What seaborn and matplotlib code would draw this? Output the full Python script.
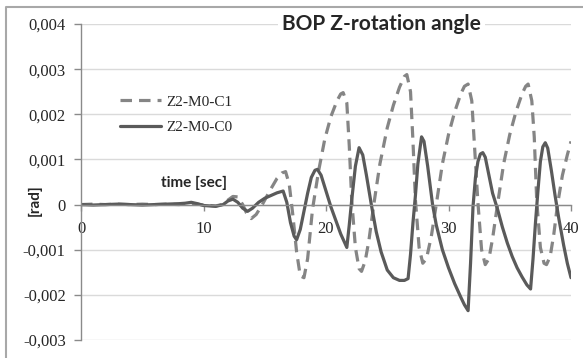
import numpy as np
import pandas as pd
import matplotlib
matplotlib.use("Agg")
import matplotlib.pyplot as plt
from matplotlib.ticker import FuncFormatter, FixedLocator
from matplotlib.lines import Line2D
import seaborn as sns

# BOP rotation about Z, two configurations (values in mrad)
time_c1 = [0, 1, 2, 3, 4, 5, 6, 7, 8, 8.5, 9, 9.5, 10, 10.5, 11, 11.5, 12.0, 12.4, 12.8,
           13.2, 13.5, 13.9, 14.3, 14.8, 15.4, 16.0, 16.4, 16.7, 17.0, 17.3, 17.6, 17.9,
           18.2, 18.5, 18.9, 19.4, 19.9, 20.4, 20.9, 21.2, 21.4, 21.7, 21.9, 22.1, 22.4,
           22.7, 22.9, 23.2, 23.5, 23.9, 24.4, 25.0, 25.5, 26.0, 26.4, 26.6, 26.9, 27.1,
           27.3, 27.6, 27.9, 28.2, 28.6, 29.0, 29.5, 30.0, 30.5, 31.0, 31.3, 31.6, 31.9,
           32.1, 32.4, 32.7, 33.0, 33.3, 33.6, 34.0, 34.5, 35.0, 35.5, 36.0, 36.3, 36.5,
           36.8, 37.0, 37.2, 37.5, 37.8, 38.0, 38.3, 38.6, 38.9, 39.3, 39.7, 40.0]
angle_c1_mrad = [0.0, 0.01, 0.0, 0.01, 0.0, 0.01, 0.0, 0.01, 0.0, 0.02, 0.03, 0.01, -0.01,
                 -0.02, -0.03, 0.0, 0.10, 0.18, 0.17, 0.0, -0.18, -0.31, -0.22, 0.0, 0.30,
                 0.58, 0.70, 0.73, 0.45, -0.25, -1.05, -1.58, -1.62, -1.20, -0.10, 0.75,
                 1.45, 1.95, 2.30, 2.45, 2.48, 2.25, 1.30, 0.10, -0.95, -1.42, -1.48, -1.25,
                 -0.80, 0.0, 0.90, 1.70, 2.20, 2.60, 2.84, 2.88, 2.50, 1.40, 0.10, -0.95,
                 -1.30, -1.20, -0.70, 0.0, 0.90, 1.55, 2.05, 2.45, 2.62, 2.67, 2.30, 1.40,
                 0.05, -1.00, -1.33, -1.20, -0.75, 0.0, 0.90, 1.55, 2.05, 2.45, 2.62, 2.67,
                 2.30, 1.50, 0.10, -0.95, -1.30, -1.33, -1.15, -0.65, 0.0, 0.65, 1.10, 1.40]

time_c0 = [0, 1, 2, 3, 4, 5, 6, 7, 8, 8.5, 9, 9.5, 10, 10.5, 11, 11.6, 12.0, 12.4, 12.8,
           13.2, 13.6, 14.0, 14.5, 15.0, 15.5, 16.0, 16.5, 16.8, 17.1, 17.4, 17.6, 17.9,
           18.2, 18.5, 18.8, 19.1, 19.3, 19.6, 20.0, 20.4, 20.8, 21.2, 21.7, 21.9, 22.1,
           22.4, 22.7, 23.0, 23.3, 23.7, 24.1, 24.5, 25.0, 25.5, 26.0, 26.4, 26.7, 26.9,
           27.1, 27.3, 27.5, 27.8, 28.0, 28.3, 28.7, 29.0, 29.5, 30.0, 30.5, 31.0, 31.3,
           31.6, 31.8, 32.0, 32.2, 32.4, 32.6, 32.8, 33.0, 33.3, 33.6, 34.0, 34.4, 34.8,
           35.2, 35.6, 36.0, 36.4, 36.7, 36.9, 37.1, 37.3, 37.5, 37.7, 37.9, 38.1, 38.4,
           38.7, 39.0, 39.4, 39.7, 40.0]
angle_c0_mrad = [0.0, -0.01, 0.0, 0.01, 0.0, -0.01, 0.0, 0.01, 0.02, 0.03, 0.05, 0.02,
                 -0.02, -0.03, -0.04, 0.0, 0.08, 0.12, 0.05, -0.08, -0.15, -0.08, 0.05,
                 0.14, 0.20, 0.26, 0.30, 0.05, -0.40, -0.70, -0.78, -0.55, -0.15, 0.25,
                 0.60, 0.76, 0.78, 0.65, 0.30, -0.05, -0.35, -0.65, -0.95, -0.45, 0.10,
                 0.85, 1.26, 1.10, 0.65, 0.0, -0.60, -1.05, -1.45, -1.62, -1.68, -1.68,
                 -1.64, -1.10, -0.40, 0.20, 0.90, 1.50, 1.40, 0.85, 0.0, -0.45, -1.00,
                 -1.40, -1.75, -2.05, -2.22, -2.35, -1.30, -0.05, 0.60, 0.95, 1.12, 1.15,
                 1.05, 0.65, 0.25, -0.10, -0.50, -0.85, -1.15, -1.40, -1.60, -1.78, -1.87,
                 -1.20, -0.40, 0.30, 0.95, 1.28, 1.37, 1.25, 0.75, 0.20, -0.30, -0.90,
                 -1.30, -1.62]

series_names = ["Z2-M0-C1", "Z2-M0-C0"]
x_ticks = [0, 10, 20, 30, 40]
y_ticks_mrad = [-3, -2, -1, 0, 1, 2, 3, 4]

SANS = ["Lato", "DejaVu Sans"]
W, H = 583, 358

sns.set_style("white")
plt.rcParams["font.family"] = ["Liberation Serif", "DejaVu Serif"]

df = pd.concat([
    pd.DataFrame({"t": time_c1, "rad": np.array(angle_c1_mrad) / 1000.0,
                  "series": series_names[0]}),
    pd.DataFrame({"t": time_c0, "rad": np.array(angle_c0_mrad) / 1000.0,
                  "series": series_names[1]}),
], ignore_index=True)

fig = plt.figure(figsize=(W / 100, H / 100), dpi=100)
ax = fig.add_axes([81 / W, 1 - 340 / H, (571 - 81) / W, (340 - 24) / H])

sns.lineplot(data=df, x="t", y="rad", hue="series", style="series",
             hue_order=series_names, style_order=series_names,
             palette={series_names[0]: "#858585", series_names[1]: "#5a5a5a"},
             dashes={series_names[0]: (3.6, 2.2), series_names[1]: ""},
             sort=False, estimator=None, linewidth=2.3, ax=ax)

ax.set_xlim(0, 40)
ax.set_ylim(-0.003, 0.004)
ax.xaxis.set_major_locator(FixedLocator(x_ticks))
ax.yaxis.set_major_locator(FixedLocator([v / 1000 for v in y_ticks_mrad]))
ax.yaxis.set_major_formatter(FuncFormatter(
    lambda v, _: "0" if abs(v) < 1e-12 else f"{v:.3f}".replace(".", ",")))
ax.set_xlabel("")
ax.set_ylabel("")

ax.spines["top"].set_visible(False)
ax.spines["right"].set_visible(False)
ax.spines["bottom"].set_position(("data", 0))
for s in ("left", "bottom"):
    ax.spines[s].set_color("#8a8a8a")
    ax.spines[s].set_linewidth(1.0)

ax.yaxis.grid(True, color="#dadada", linewidth=1.0)
ax.xaxis.grid(False)
ax.set_axisbelow(True)
ax.tick_params(axis="y", left=True, direction="out", length=5, width=1,
               color="#8a8a8a", pad=6, labelsize=12)
ax.tick_params(axis="x", bottom=True, direction="out", length=4, width=1,
               color="#8a8a8a", pad=8, labelsize=12)

handles, labels = ax.get_legend_handles_labels()
pairs = [(h, l) for h, l in zip(handles, labels) if l in series_names]
ax.legend([p[0] for p in pairs], [p[1] for p in pairs],
          loc="center left", bbox_to_anchor=(106 / W, 1 - 114.5 / H),
          bbox_transform=fig.transFigure, frameon=False, fontsize=11,
          handlelength=2.7, handletextpad=0.35, labelspacing=0.75)

ax.text(24.5, 0.004, "BOP Z-rotation angle", ha="center", va="center",
        fontsize=15, fontweight="bold", family=SANS, clip_on=False, zorder=5,
        bbox=dict(facecolor="white", edgecolor="none", pad=3))
ax.text(9.2, 0.00047, "time [sec]", ha="center", va="center",
        fontsize=11, fontweight="bold", family=SANS)
fig.text(35 / W, 1 - 200 / H, "[rad]", rotation=90, ha="center", va="center",
         fontsize=11, fontweight="bold", family=SANS)

# chart-area frame (left and top edges)
fig.add_artist(Line2D([6 / W, 6 / W, 1.0], [0.0, 1 - 7 / H, 1 - 7 / H],
                      transform=fig.transFigure, color="#a8a8a8", linewidth=1.5))

fig.savefig("out.png", dpi=100)
